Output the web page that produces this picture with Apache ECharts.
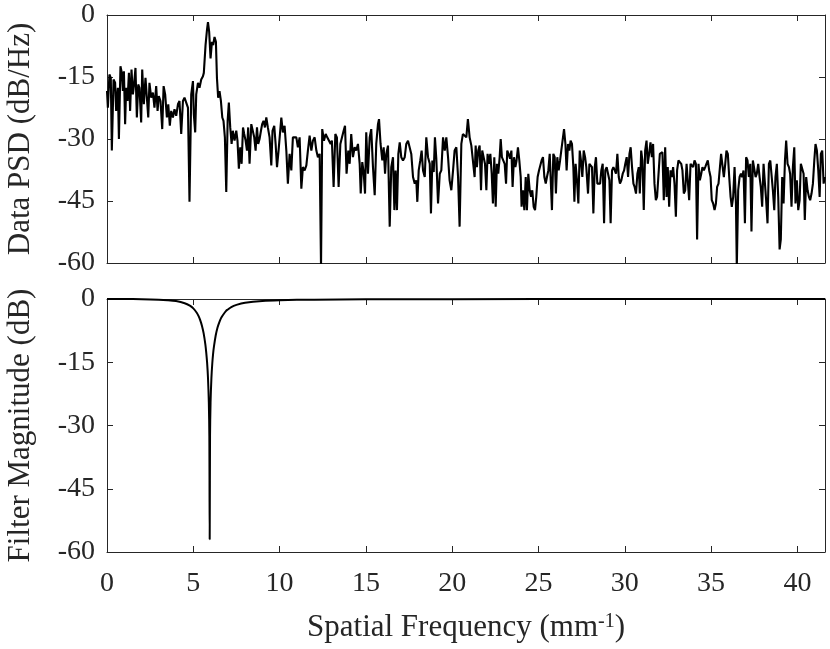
<!DOCTYPE html>
<html>
<head>
<meta charset="utf-8">
<script src="https://cdn.jsdelivr.net/npm/echarts@6/dist/echarts.min.js"></script>
<style>
html,body{margin:0;padding:0;background:#fff;}
#c{width:830px;height:649px;}
</style>
</head>
<body>
<div id="c"></div>
<script>
const xTicks = [0, 5, 10, 15, 20, 25, 30, 35, 40];
const yTicks = [0, -15, -30, -45, -60];
const xMax = 41.6;

// Data PSD (dB/Hz): [frequency mm^-1, dB]
const psdPoints = [
[0.0,-18.4],[0.05,-22.4],[0.14,-14.4],[0.22,-15.2],[0.28,-32.8],[0.38,-15.6],[0.47,-16.4],[0.53,-23.2],[0.63,-17.6],[0.69,-30.0],
[0.78,-12.4],[0.86,-14.0],[0.92,-18.4],[0.98,-13.6],[1.05,-26.4],[1.11,-17.6],[1.19,-20.8],[1.27,-14.0],[1.34,-23.2],[1.42,-13.2],
[1.50,-19.2],[1.57,-16.8],[1.65,-12.8],[1.73,-24.8],[1.81,-16.8],[1.88,-17.6],[1.98,-26.0],[2.04,-13.2],[2.135,-21.6],[2.23,-15.2],
[2.31,-20.0],[2.39,-24.8],[2.46,-16.4],[2.56,-20.0],[2.66,-18.8],[2.75,-22.4],[2.85,-17.2],[2.93,-23.2],[3.0,-19.6],[3.10,-20.8],
[3.20,-27.6],[3.28,-17.2],[3.37,-19.2],[3.47,-24.8],[3.55,-21.6],[3.64,-26.8],[3.72,-23.2],[3.82,-24.8],[3.91,-22.8],[4.01,-24.4],
[4.11,-21.6],[4.20,-20.8],[4.30,-28.8],[4.40,-20.8],[4.49,-20.0],[4.59,-20.4],[4.69,-22.4],[4.78,-45.2],[4.88,-19.2],[4.98,-16.0],
[5.03,-24.0],[5.11,-28.4],[5.17,-19.2],[5.27,-16.4],[5.36,-17.6],[5.46,-15.6],[5.56,-14.8],[5.61,-14.0],[5.71,-7.3],[5.79,-3.7],
[5.85,-1.7],[5.92,-4.1],[6.00,-10.5],[6.08,-6.5],[6.15,-7.3],[6.23,-5.3],[6.31,-6.5],[6.37,-15.2],[6.44,-20.0],[6.52,-18.4],
[6.60,-20.8],[6.68,-24.8],[6.75,-25.6],[6.83,-29.6],[6.91,-42.8],[6.99,-25.6],[7.06,-21.2],[7.14,-27.2],[7.22,-31.2],[7.29,-28.0],
[7.39,-30.4],[7.49,-28.0],[7.56,-30.4],[7.64,-37.2],[7.72,-32.0],[7.80,-36.0],[7.88,-27.2],[7.95,-28.8],[8.03,-30.4],[8.11,-32.8],
[8.18,-27.2],[8.26,-36.0],[8.36,-26.4],[8.45,-26.0],[8.53,-29.6],[8.61,-32.8],[8.69,-27.2],[8.76,-31.2],[8.84,-30.0],[8.92,-28.0],
[8.99,-26.4],[9.07,-25.6],[9.15,-27.2],[9.23,-24.8],[9.32,-27.2],[9.42,-29.6],[9.52,-36.4],[9.59,-28.0],[9.69,-26.8],[9.77,-31.2],
[9.85,-36.8],[9.94,-32.8],[10.10,-24.8],[10.19,-28.4],[10.29,-26.8],[10.39,-32.8],[10.48,-40.8],[10.58,-33.6],[10.68,-37.6],[10.77,-29.6],
[10.87,-30.0],[10.97,-29.6],[11.06,-32.0],[11.16,-29.6],[11.26,-42.0],[11.35,-36.8],[11.45,-37.6],[11.55,-36.4],[11.64,-32.8],[11.74,-29.2],
[11.84,-32.8],[11.93,-30.4],[12.03,-29.6],[12.13,-32.8],[12.22,-34.4],[12.32,-33.6],[12.40,-61.0],[12.47,-27.6],[12.57,-30.4],[12.67,-28.8],
[12.76,-29.6],[12.86,-29.6],[12.96,-31.2],[13.03,-30.4],[13.13,-41.6],[13.23,-28.8],[13.32,-29.6],[13.42,-41.6],[13.52,-31.2],[13.61,-31.2],
[13.71,-28.0],[13.79,-26.8],[13.88,-38.4],[13.98,-32.8],[14.06,-36.0],[14.15,-28.8],[14.25,-34.4],[14.35,-32.0],[14.44,-32.8],[14.54,-31.2],
[14.64,-36.0],[14.70,-43.2],[14.79,-35.6],[14.87,-38.0],[14.95,-43.2],[15.02,-28.4],[15.12,-38.4],[15.22,-29.6],[15.31,-27.6],[15.41,-36.8],
[15.51,-43.6],[15.60,-31.2],[15.70,-26.4],[15.76,-25.2],[15.85,-31.2],[15.95,-35.2],[16.03,-32.0],[16.11,-38.4],[16.18,-33.6],[16.28,-31.6],
[16.38,-51.2],[16.47,-36.8],[16.57,-34.4],[16.65,-47.2],[16.72,-37.6],[16.80,-47.2],[16.88,-33.6],[16.96,-30.8],[17.05,-34.4],[17.15,-35.2],
[17.25,-34.4],[17.34,-31.2],[17.44,-30.4],[17.54,-30.8],[17.63,-33.6],[17.73,-39.2],[17.83,-40.8],[17.92,-40.0],[17.98,-45.2],[18.06,-37.6],
[18.15,-35.2],[18.23,-32.8],[18.31,-37.6],[18.41,-39.2],[18.50,-29.6],[18.60,-34.4],[18.70,-36.0],[18.77,-48.0],[18.85,-35.2],[18.93,-38.0],
[19.00,-29.6],[19.08,-34.8],[19.18,-45.6],[19.28,-38.4],[19.37,-37.6],[19.47,-29.6],[19.57,-32.8],[19.66,-29.6],[19.76,-34.4],[19.85,-40.0],
[19.95,-42.4],[20.05,-37.6],[20.14,-32.8],[20.24,-32.0],[20.34,-39.2],[20.43,-51.2],[20.53,-31.2],[20.62,-28.8],[20.72,-29.2],[20.82,-29.6],
[20.91,-25.2],[21.01,-29.6],[21.11,-31.6],[21.20,-32.0],[21.30,-39.2],[21.36,-31.6],[21.43,-36.8],[21.51,-32.8],[21.59,-31.6],[21.67,-42.4],
[21.74,-32.8],[21.82,-32.8],[21.90,-36.0],[21.98,-42.4],[22.05,-33.6],[22.13,-36.0],[22.21,-33.6],[22.29,-38.4],[22.36,-45.6],[22.44,-34.4],
[22.52,-46.4],[22.59,-36.0],[22.67,-38.4],[22.75,-34.4],[22.81,-30.0],[22.88,-34.4],[22.96,-34.4],[23.04,-36.0],[23.12,-40.8],[23.19,-32.8],
[23.27,-33.6],[23.35,-34.8],[23.43,-32.8],[23.50,-41.6],[23.58,-34.4],[23.66,-36.8],[23.73,-35.2],[23.81,-32.0],[23.89,-35.2],[23.97,-39.2],
[24.02,-46.4],[24.10,-42.4],[24.18,-47.2],[24.26,-39.2],[24.33,-47.2],[24.41,-38.4],[24.49,-42.4],[24.57,-44.0],[24.64,-42.4],[24.72,-46.4],
[24.80,-47.2],[24.87,-44.0],[24.95,-39.2],[25.03,-37.6],[25.11,-37.6],[25.18,-35.2],[25.26,-34.4],[25.34,-39.2],[25.42,-40.8],[25.49,-39.2],
[25.57,-37.6],[25.65,-33.6],[25.72,-33.2],[25.78,-47.2],[25.86,-33.6],[25.94,-34.4],[26.01,-43.2],[26.09,-34.4],[26.17,-37.6],[26.25,-35.2],
[26.32,-32.8],[26.40,-32.8],[26.48,-27.6],[26.56,-31.2],[26.63,-37.6],[26.71,-31.2],[26.79,-32.8],[26.86,-30.4],[26.94,-31.2],[27.02,-36.8],
[27.08,-45.2],[27.15,-36.0],[27.23,-40.0],[27.31,-45.6],[27.39,-32.8],[27.46,-35.2],[27.54,-39.2],[27.62,-32.8],[27.70,-34.4],[27.77,-36.8],
[27.87,-43.2],[27.95,-36.0],[28.02,-35.6],[28.10,-36.8],[28.18,-48.0],[28.26,-36.8],[28.33,-34.4],[28.41,-40.8],[28.49,-40.8],[28.57,-40.8],
[28.64,-37.6],[28.72,-36.0],[28.80,-50.4],[28.87,-37.6],[28.95,-36.8],[29.03,-38.4],[29.11,-40.0],[29.18,-50.4],[29.26,-37.6],[29.34,-36.8],
[29.42,-37.6],[29.49,-38.4],[29.57,-33.6],[29.65,-39.2],[29.72,-40.8],[29.80,-40.0],[29.88,-38.4],[29.96,-37.6],[30.03,-36.0],[30.11,-34.4],
[30.19,-39.2],[30.27,-33.6],[30.34,-32.0],[30.42,-36.8],[30.50,-40.8],[30.57,-41.6],[30.65,-43.2],[30.73,-38.4],[30.81,-36.8],[30.87,-43.2],
[30.95,-32.8],[31.02,-35.2],[31.10,-47.2],[31.18,-32.8],[31.26,-30.4],[31.33,-36.0],[31.41,-33.6],[31.49,-30.8],[31.57,-34.4],[31.64,-31.2],
[31.72,-40.8],[31.80,-44.8],[31.87,-44.0],[31.95,-44.0],[32.03,-33.6],[32.11,-33.6],[32.18,-33.2],[32.26,-44.8],[32.34,-32.0],[32.42,-44.0],
[32.49,-36.8],[32.57,-46.4],[32.65,-37.6],[32.73,-39.2],[32.80,-36.8],[32.88,-40.8],[32.96,-48.8],[33.03,-37.6],[33.11,-35.2],[33.19,-35.2],
[33.27,-36.0],[33.34,-37.6],[33.42,-43.2],[33.50,-42.4],[33.58,-36.0],[33.65,-36.0],[33.73,-44.8],[33.81,-36.0],[33.88,-36.0],[33.96,-36.8],
[34.04,-35.2],[34.12,-36.0],[34.19,-54.3],[34.27,-36.0],[34.35,-40.0],[34.43,-38.4],[34.50,-36.8],[34.58,-37.6],[34.66,-36.8],[34.73,-36.0],
[34.81,-35.2],[34.89,-37.6],[34.97,-39.2],[35.04,-44.8],[35.12,-45.6],[35.20,-47.2],[35.28,-45.6],[35.35,-41.6],[35.43,-40.8],[35.51,-40.8],
[35.58,-33.6],[35.66,-33.6],[35.74,-39.2],[35.82,-36.0],[35.89,-32.8],[35.97,-33.6],[36.05,-39.2],[36.13,-44.0],[36.20,-46.4],[36.28,-44.0],
[36.36,-36.8],[36.44,-45.6],[36.49,-61.0],[36.57,-42.4],[36.65,-39.2],[36.73,-38.4],[36.80,-39.2],[36.88,-37.6],[36.96,-50.4],[37.03,-34.4],
[37.11,-35.2],[37.19,-39.2],[37.27,-36.0],[37.34,-52.4],[37.42,-35.2],[37.50,-35.2],[37.58,-39.2],[37.65,-38.4],[37.73,-36.0],[37.81,-39.2],
[37.88,-41.6],[37.96,-46.4],[38.04,-36.0],[38.12,-40.8],[38.19,-44.8],[38.27,-50.4],[38.35,-36.0],[38.43,-35.2],[38.50,-35.2],[38.58,-42.4],
[38.66,-47.2],[38.73,-39.2],[38.81,-36.0],[38.89,-44.0],[38.97,-56.7],[39.04,-54.3],[39.12,-39.2],[39.20,-45.6],[39.28,-35.2],[39.35,-30.4],
[39.43,-36.0],[39.51,-36.8],[39.58,-38.4],[39.66,-46.4],[39.74,-36.8],[39.82,-32.0],[39.89,-45.6],[39.97,-40.0],[40.05,-47.2],[40.13,-44.8],
[40.20,-36.0],[40.28,-36.0],[40.36,-38.4],[40.43,-49.6],[40.51,-39.2],[40.59,-42.4],[40.67,-44.0],[40.74,-44.8],[40.82,-43.2],[40.90,-40.8],
[40.98,-35.2],[41.05,-31.2],[41.13,-32.8],[41.21,-37.6],[41.29,-44.0],[41.36,-33.6],[41.44,-32.8],[41.52,-40.8],[41.6,-39.2]
];

// Notch filter magnitude (dB)
const filterFreq = [0, 1, 2, 3, 3.5, 4, 4.5, 4.8, 5, 5.2, 5.3, 5.4, 5.5, 5.6, 5.7, 5.75, 5.8, 5.85, 5.9, 5.93, 5.95,
  5.97, 6.0, 6.05, 6.1, 6.15, 6.2, 6.3, 6.4, 6.5, 6.6, 6.7, 6.9, 7.0, 7.2, 7.5, 8, 9, 10, 12, 15, 20, 30, 41.6];
const filterDb = [0, -0.01, -0.05, -0.16, -0.28, -0.5, -0.99, -1.57, -2.22, -3.26, -4.01, -5.0, -6.33, -8.16, -10.8, -12.7, -15.1, -18.6, -24.6, -32.6, -57,
  -32.5, -24.6, -18.7, -15.3, -12.9, -11.2, -8.6, -6.8, -5.6, -4.6, -3.9, -2.8, -2.5, -1.9, -1.4, -0.9, -0.46, -0.29, -0.15, -0.08, -0.04, -0.015, -0.01];

const filterPoints = filterFreq.map((f, i) => [f, filterDb[i]]);

const FONT = 'Liberation Serif';
const AX = '#262626';
const tickFont = 28;
const nameFont = 31;

function xAx(gridIndex, pos, labels, name) {
  const a = {
    type: 'value', gridIndex, position: pos, min: 0, max: xMax, interval: 5,
    axisLine: { show: true, onZero: false, lineStyle: { color: AX, width: 1 } },
    axisTick: { show: true, inside: true, length: 6, lineStyle: { color: AX, width: 1 } },
    axisLabel: { show: labels, margin: 18, fontFamily: FONT, fontSize: tickFont, color: AX, showMaxLabel: false,
      formatter: v => xTicks.includes(v) ? String(v) : '' },
    splitLine: { show: false }
  };
  if (name) {
    a.name = 'Spatial Frequency (mm{sup|-1})';
    a.nameLocation = 'middle';
    a.nameGap = 60;
    a.nameTextStyle = { fontFamily: FONT, fontSize: nameFont, color: AX,
      rich: { sup: { fontFamily: FONT, fontSize: 20, color: AX, verticalAlign: 'top', padding: [0, 0, 12, 0] } } };
  }
  return a;
}
function yAx(gridIndex, pos, labels, name) {
  const a = {
    type: 'value', gridIndex, position: pos, min: -60, max: 0, interval: 15,
    axisLine: { show: true, onZero: false, lineStyle: { color: AX, width: 1 } },
    axisTick: { show: true, inside: true, length: 6, lineStyle: { color: AX, width: 1 } },
    axisLabel: { show: labels, margin: 12, fontFamily: FONT, fontSize: tickFont, color: AX,
      formatter: v => yTicks.includes(v) ? String(v) : '' },
    splitLine: { show: false }
  };
  if (name) {
    a.name = name;
    a.nameLocation = 'middle';
    a.nameGap = 71;
    a.nameTextStyle = { fontFamily: FONT, fontSize: nameFont, color: AX };
  }
  return a;
}

const chart = echarts.init(document.getElementById('c'), null, { renderer: 'canvas' });
chart.setOption({
  animation: false,
  backgroundColor: '#fff',
  grid: [
    { left: 107, top: 15, width: 718, height: 248, containLabel: false, outerBoundsMode: 'none' },
    { left: 107, top: 299, width: 718, height: 253, containLabel: false, outerBoundsMode: 'none' }
  ],
  xAxis: [
    xAx(0, 'bottom', false, false),
    xAx(0, 'top', false, false),
    xAx(1, 'bottom', true, true),
    xAx(1, 'top', false, false)
  ],
  yAxis: [
    yAx(0, 'left', true, 'Data PSD (dB/Hz)'),
    yAx(0, 'right', false, null),
    yAx(1, 'left', true, 'Filter Magnitude (dB)'),
    yAx(1, 'right', false, null)
  ],
  series: [
    { type: 'line', xAxisIndex: 0, yAxisIndex: 0, data: psdPoints, showSymbol: false, clip: true,
      lineStyle: { color: '#000', width: 2.1 }, z: 3 },
    { type: 'line', xAxisIndex: 2, yAxisIndex: 2, data: filterPoints, showSymbol: false, smooth: 0.3, clip: true,
      lineStyle: { color: '#000', width: 2 }, z: 3 }
  ]
});
</script>
</body>
</html>
